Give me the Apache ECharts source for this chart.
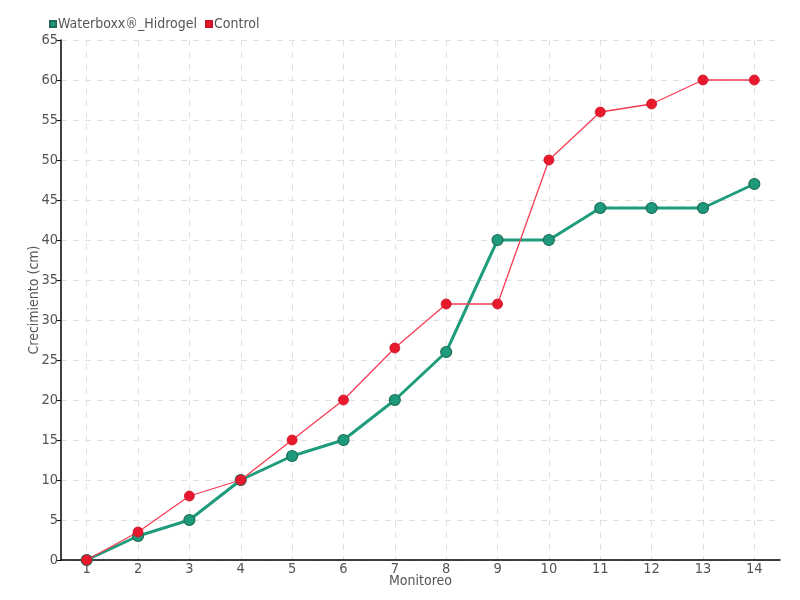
<!DOCTYPE html>
<html><head><meta charset="utf-8">
<script src="https://cdn.jsdelivr.net/npm/echarts@6/dist/echarts.min.js"></script>
<style>html,body{margin:0;padding:0;background:#fff}#c{width:800px;height:600px}</style>
</head><body><div id="c"></div>
<script>
const categories = ['1','2','3','4','5','6','7','8','9','10','11','12','13','14'];
const waterboxx = [0,3,5,10,13,15,20,26,40,40,44,44,44,47];
const control = [0,3.5,8,10,15,20,26.5,32,32,50,56,57,60,60];
const seriesNames = ['Waterboxx®_Hidrogel','Control'];
const FONT = "'DejaVu Sans Condensed','Liberation Sans Narrow',sans-serif";
const chart = echarts.init(document.getElementById('c'));
chart.setOption({
  animation:false,
  textStyle:{fontFamily:FONT},
  legend:{
    left:44, top:12, itemWidth:6, itemHeight:6, itemGap:8, icon:'rect',
    textStyle:{fontFamily:FONT,fontSize:14,color:'#555',padding:[0,0,0,-3]},
    data:seriesNames
  },
  grid:{left:61,right:20,top:40,bottom:40,outerBoundsMode:'none',containLabel:false},
  xAxis:{
    type:'category', data:categories, boundaryGap:true,
    name:'Monitoreo', nameLocation:'middle', nameGap:14, nameMoveOverlap:false,
    nameTextStyle:{fontFamily:FONT,fontSize:14,color:'#555'},
    axisLine:{lineStyle:{color:'#000',width:1.5}},
    axisTick:{show:false},
    axisLabel:{fontFamily:FONT,fontSize:14.5,color:'#555',margin:2},
    splitLine:{show:true,alignWithLabel:true,lineStyle:{color:'#e0e0e0',type:[6,6],width:1}}
  },
  yAxis:{
    type:'value', min:0, max:65, interval:5,
    name:'Crecimiento (cm)', nameLocation:'middle', nameGap:20, nameMoveOverlap:false,
    nameTextStyle:{fontFamily:FONT,fontSize:14,color:'#555'},
    axisLine:{show:true,lineStyle:{color:'#000',width:1.5}},
    axisTick:{show:true,length:4,lineStyle:{color:'#000'}},
    axisLabel:{fontFamily:FONT,fontSize:14.5,color:'#555',margin:3},
    splitLine:{show:true,lineStyle:{color:'#e0e0e0',type:[6,6],width:1}}
  },
  series:[
    {name:seriesNames[0],type:'line',data:waterboxx,symbol:'circle',symbolSize:11,
     lineStyle:{color:'#1f9c7c',width:3},
     itemStyle:{color:'#1d9a7b',borderColor:'#1f6e55',borderWidth:1.2},z:2},
    {name:seriesNames[1],type:'line',data:control,symbol:'circle',symbolSize:10,
     lineStyle:{color:'#f83c55',width:1.3},
     itemStyle:{color:'#e8192c',borderColor:'#c8142a',borderWidth:0.8},z:3}
  ]
});
</script></body></html>
